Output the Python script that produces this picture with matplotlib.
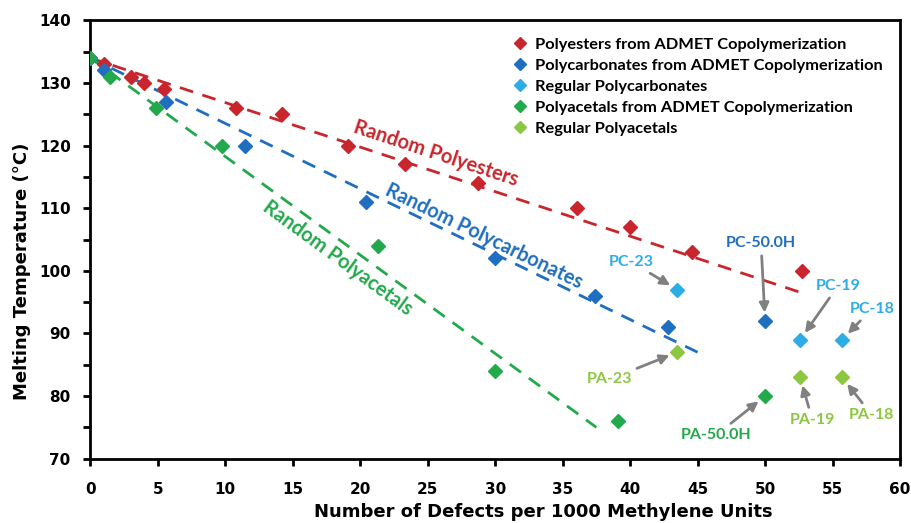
import numpy as np
import matplotlib
matplotlib.use("Agg")
import matplotlib.pyplot as plt
from matplotlib.ticker import MultipleLocator

plt.rcParams['font.family'] = ['Lato', 'DejaVu Sans']
plt.rcParams['font.weight'] = 'bold'
AXFONT = ['DejaVu Sans']

# ---- data ----
pe_x = [0, 1, 3, 4, 5.5, 10.8, 14.2, 19.1, 23.3, 28.7, 36.1, 40.0, 44.6, 52.7]
pe_y = [134, 133, 131, 130, 129, 126, 125, 120, 117, 114, 110, 107, 103, 100]

pc_x = [0, 1, 5.6, 11.5, 20.4, 30.0, 37.4, 42.8, 50.0]
pc_y = [134, 132, 127, 120, 111, 102, 96, 91, 92]

rpc_x = [43.5, 52.6, 55.7]
rpc_y = [97, 89, 89]

pa_x = [0, 1.5, 4.9, 9.8, 21.3, 30.0, 39.1, 50.0]
pa_y = [134, 131, 126, 120, 104, 84, 76, 80]

rpa_x = [43.5, 52.6, 55.7]
rpa_y = [87, 83, 83]

# trend lines (start, end)
pe_fit_x = [0, 52.7]
pe_fit_y = [134, 96.5]
pc_fit_x = [0, 45.0]
pc_fit_y = [134, 87]
pa_fit_x = [0, 37.5]
pa_fit_y = [134, 75]

legend_labels = ["Polyesters from ADMET Copolymerization",
                 "Polycarbonates from ADMET Copolymerization",
                 "Regular Polycarbonates",
                 "Polyacetals from ADMET Copolymerization",
                 "Regular Polyacetals"]

# annotations: label, point, text position
ann_labels = ["PC-23", "PC-50.0H", "PC-19", "PC-18",
              "PA-23", "PA-50.0H", "PA-19", "PA-18"]
ann_pts = [(43.5, 97), (50.0, 92), (52.6, 89), (55.7, 89),
           (43.5, 87), (50.0, 80), (52.6, 83), (55.7, 83)]
ann_txt = [(40.1, 101.4), (49.7, 104.4), (55.4, 97.6), (57.9, 93.9),
           (38.5, 82.7), (46.4, 73.8), (53.5, 76.2), (57.9, 77.0)]

RED = '#C8262C'
BLUE = '#1F6EBF'
LBLUE = '#2DADE6'
GREEN = '#22A94B'
LGREEN = '#8DC641'
ann_colors = [LBLUE, BLUE, LBLUE, LBLUE, LGREEN, GREEN, LGREEN, LGREEN]

fig = plt.figure(figsize=(9.11, 5.23), dpi=100)
ax = fig.add_axes([0.099, 0.123, 0.889, 0.838])

ms = 7.5
dash = (5, 3.5)
ax.plot(pe_fit_x, pe_fit_y, '--', color=RED, lw=2, dashes=dash)
ax.plot(pc_fit_x, pc_fit_y, '--', color=BLUE, lw=2, dashes=dash)
ax.plot(pa_fit_x, pa_fit_y, '--', color=GREEN, lw=2, dashes=dash)

ax.plot(pe_x, pe_y, 'D', color=RED, ms=ms, label=legend_labels[0], zorder=3)
ax.plot(pc_x, pc_y, 'D', color=BLUE, ms=ms, label=legend_labels[1], zorder=3)
ax.plot(rpc_x, rpc_y, 'D', color=LBLUE, ms=ms, label=legend_labels[2], zorder=3)
ax.plot(pa_x, pa_y, 'D', color=GREEN, ms=ms, label=legend_labels[3], zorder=3)
ax.plot(rpa_x, rpa_y, 'D', color=LGREEN, ms=ms, label=legend_labels[4], zorder=3)

ax.set_xlim(0, 60)
ax.set_ylim(70, 140)
ax.xaxis.set_major_locator(MultipleLocator(5))
ax.yaxis.set_major_locator(MultipleLocator(10))
ax.yaxis.set_minor_locator(MultipleLocator(5))
ax.tick_params(axis='both', which='both', direction='out', width=2, labelsize=11)
ax.tick_params(axis='both', which='major', length=5)
ax.tick_params(axis='y', which='minor', length=5)
ax.tick_params(axis='x', pad=12)
ax.tick_params(axis='y', pad=9)
for s in ax.spines.values():
    s.set_linewidth(2)
    s.set_color('black')
for lab in ax.get_xticklabels() + ax.get_yticklabels():
    lab.set_fontweight('bold')
    lab.set_family(AXFONT)

ax.set_xlabel("Number of Defects per 1000 Methylene Units", fontsize=13,
              fontweight='bold', family=AXFONT)
ax.set_ylabel("Melting Temperature (°C)", fontsize=13, fontweight='bold',
              family=AXFONT)
ax.xaxis.set_label_coords(0.56, -0.102)
ax.yaxis.set_label_coords(-0.073, 0.427)

leg = ax.legend(loc='upper left', bbox_to_anchor=(0.523, 0.961), frameon=False,
                prop={'weight': 'bold', 'size': 11.75}, handletextpad=0.52,
                labelspacing=0.4, markerscale=0.85, handlelength=0.8,
                borderpad=0, borderaxespad=0)

# rotated trend labels
def angle_label(x0, y0, x1, y1, tx, ty, text, color):
    p0 = ax.transData.transform((x0, y0))
    p1 = ax.transData.transform((x1, y1))
    ang = np.degrees(np.arctan2(p1[1] - p0[1], p1[0] - p0[0]))
    ax.text(tx, ty, text, color=color, fontsize=14.4, fontweight='bold',
            rotation=ang, rotation_mode='anchor', ha='center', va='center')

angle_label(pe_fit_x[0], pe_fit_y[0], pe_fit_x[1], pe_fit_y[1], 25.6, 118.8,
            "Random Polyesters", RED)
angle_label(pc_fit_x[0], pc_fit_y[0], pc_fit_x[1], pc_fit_y[1], 29.2, 105.5,
            "Random Polycarbonates", BLUE)
angle_label(pa_fit_x[0], pa_fit_y[0], pa_fit_x[1], pa_fit_y[1], 18.3, 102.0,
            "Random Polyacetals", GREEN)

for lab, pt, tp, c in zip(ann_labels, ann_pts, ann_txt, ann_colors):
    ax.annotate(lab, xy=pt, xytext=tp, color=c, fontsize=11.5, fontweight='bold',
                ha='center', va='center',
                arrowprops=dict(arrowstyle='-|>', color='#808080', lw=2,
                                shrinkA=2, shrinkB=6, mutation_scale=14))

fig.savefig("out.png", dpi=100)
